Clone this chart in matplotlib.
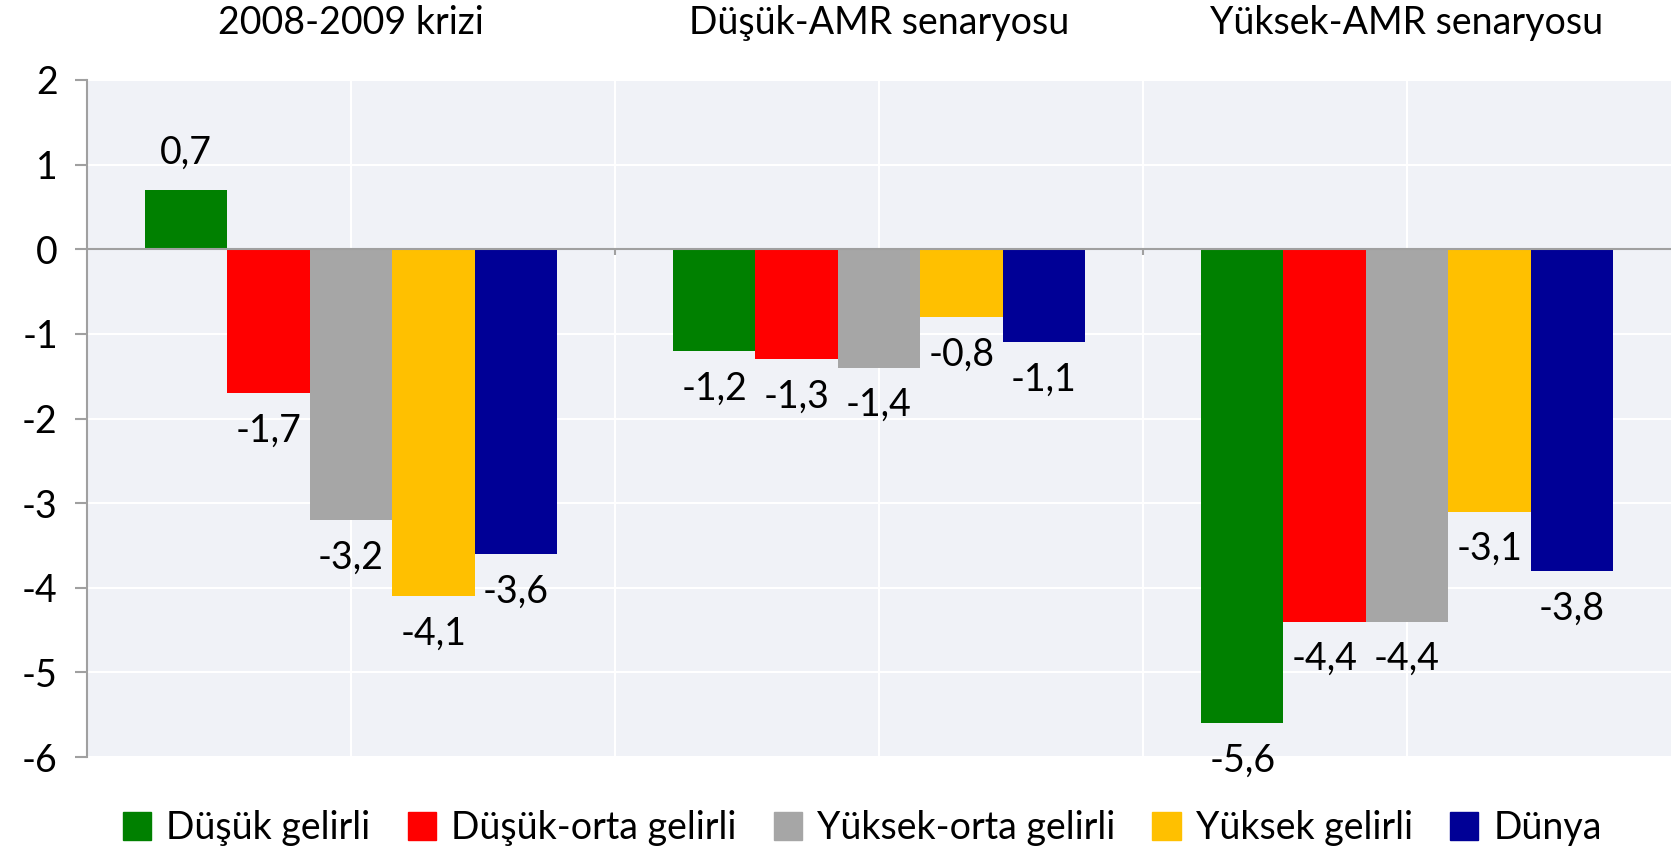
import matplotlib.pyplot as plt
import numpy as np
from matplotlib.patches import Patch

plt.rcParams['font.family'] = ['Lato', 'DejaVu Sans']
plt.rcParams['font.size'] = 27
plt.rcParams['axes.unicode_minus'] = False

groups = ['2008-2009 krizi', 'Düşük-AMR senaryosu', 'Yüksek-AMR senaryosu']
series = ['Düşük gelirli', 'Düşük-orta gelirli', 'Yüksek-orta gelirli', 'Yüksek gelirli', 'Dünya']
colors = ['#008000', '#FF0000', '#A6A6A6', '#FFC000', '#000096']

dusuk = [0.7, -1.2, -5.6]
dusuk_orta = [-1.7, -1.3, -4.4]
yuksek_orta = [-3.2, -1.4, -4.4]
yuksek = [-4.1, -0.8, -3.1]
dunya = [-3.6, -1.1, -3.8]
values = [dusuk, dusuk_orta, yuksek_orta, yuksek, dunya]

fig = plt.figure(figsize=(16.71, 8.52), dpi=100)
ax = fig.add_axes([87/1671, 1 - 757/852, 1 - 87/1671, (757 - 80)/852])
ax.set_facecolor('#F0F2F7')

x = np.arange(len(groups))
w = 0.156
for i, (vals, c) in enumerate(zip(values, colors)):
    pos = x + (i - 2) * w
    ax.bar(pos, vals, width=w, color=c, zorder=3)
    for p, v in zip(pos, vals):
        off = 27 if v > 0 else -27
        ax.annotate(('%.1f' % v).replace('.', ','), (p, v), xytext=(0, off),
                    textcoords='offset points', ha='center', va='center', zorder=4)

ax.set_xlim(-0.5, 2.5)
ax.set_ylim(-6, 2)
ax.set_yticks(range(-6, 3))

# vertical gridlines at group centres and boundaries
ax.set_xticks(x)
ax.set_xticks([0.5, 1.5], minor=True)
ax.xaxis.tick_top()
ax.set_xticklabels(groups)
ax.tick_params(axis='x', which='both', length=0, pad=28)
ax.grid(True, which='both', color='white', linewidth=1.5, zorder=0)

ax.axhline(0, color='#A0A0A0', linewidth=1.5, zorder=5)
ax.vlines([0.5, 1.5], -0.07, 0, color='#A0A0A0', linewidth=1.5, zorder=5)

for s in ['top', 'right', 'bottom']:
    ax.spines[s].set_visible(False)
ax.spines['left'].set_color('#A0A0A0')
ax.spines['left'].set_linewidth(1.5)
ax.tick_params(axis='y', color='#A0A0A0', width=1.5, length=9, pad=12)

handles = [Patch(color=c, label=s) for s, c in zip(series, colors)]
fig.legend(handles=handles, loc='center', bbox_to_anchor=(0.516, 1 - 828/852), ncol=5,
           frameon=False, handlelength=0.75, handleheight=0.75, handletextpad=0.4,
           columnspacing=1.0, fontsize=27)

fig.savefig('out.png', dpi=100)
